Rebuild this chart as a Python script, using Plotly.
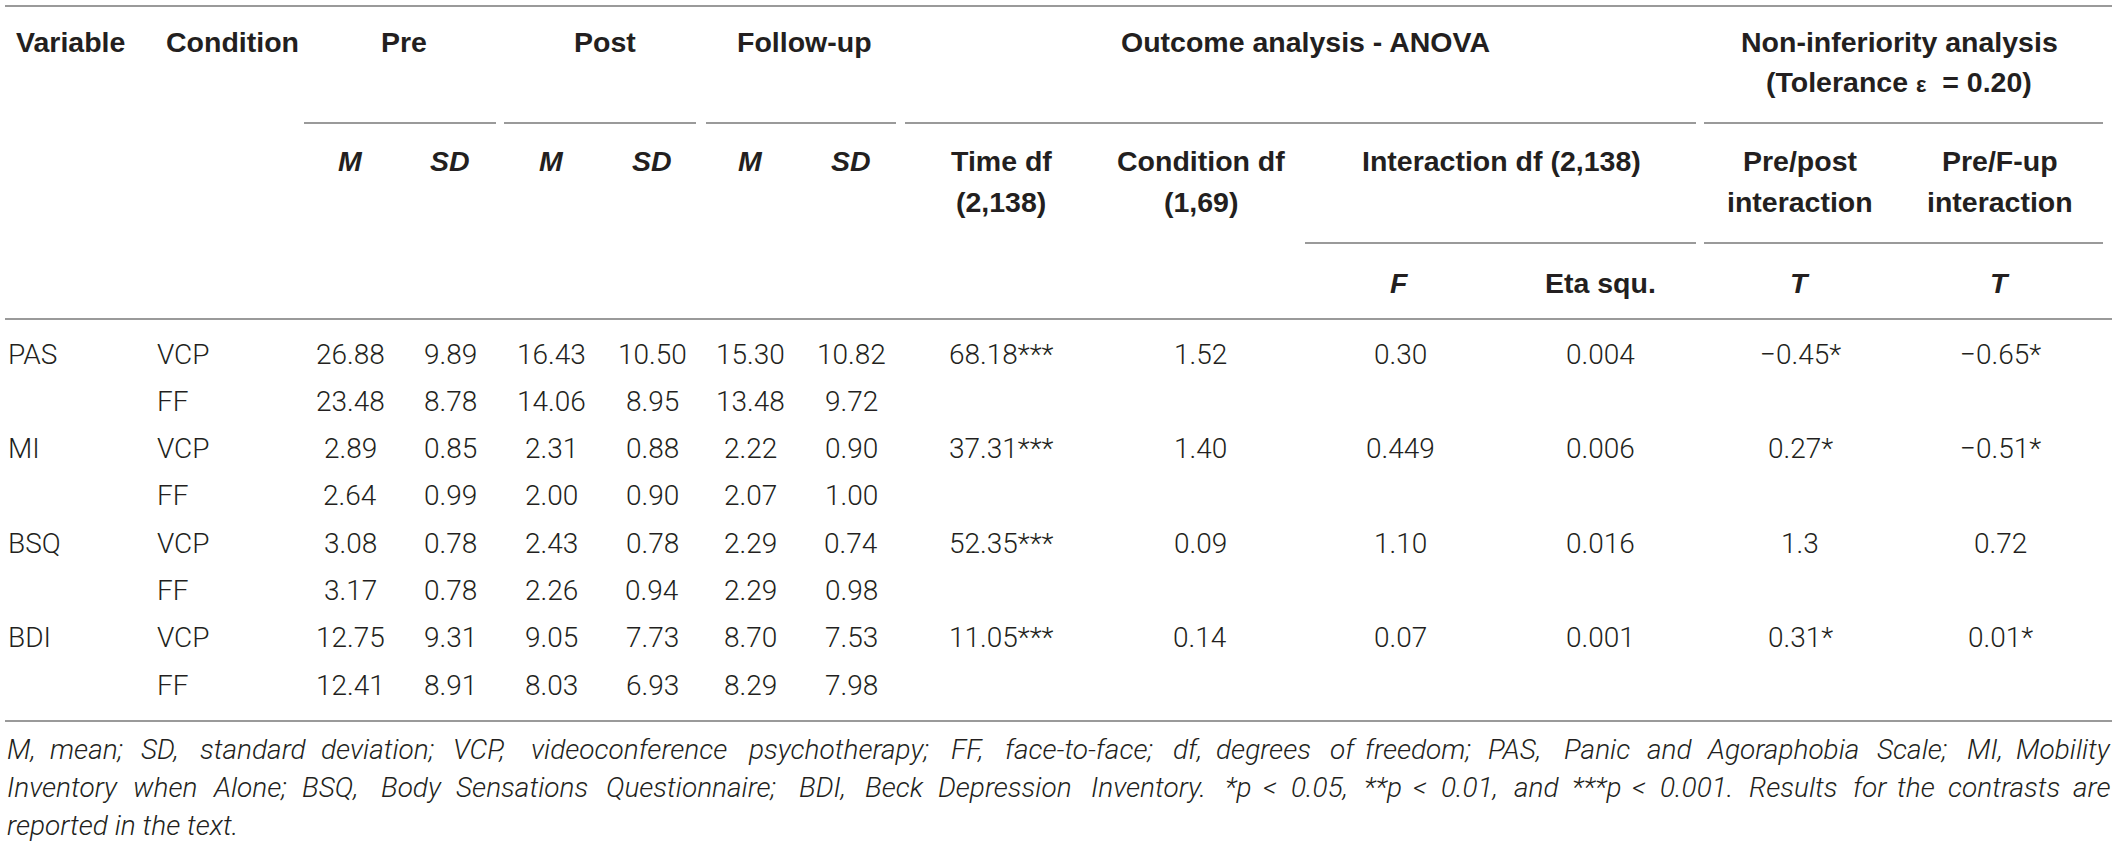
import plotly.graph_objects as go

# ------------------------------------------------------------------ data
variables = ["PAS", "MI", "BSQ", "BDI"]
conditions = ["VCP", "FF"]

pre_m = [26.88, 23.48, 2.89, 2.64, 3.08, 3.17, 12.75, 12.41]
pre_sd = [9.89, 8.78, 0.85, 0.99, 0.78, 0.78, 9.31, 8.91]
post_m = [16.43, 14.06, 2.31, 2.00, 2.43, 2.26, 9.05, 8.03]
post_sd = [10.50, 8.95, 0.88, 0.90, 0.78, 0.94, 7.73, 6.93]
fu_m = [15.30, 13.48, 2.22, 2.07, 2.29, 2.29, 8.70, 8.29]
fu_sd = [10.82, 9.72, 0.90, 1.00, 0.74, 0.98, 7.53, 7.98]

time_df = ["68.18***", "37.31***", "52.35***", "11.05***"]
condition_df = ["1.52", "1.40", "0.09", "0.14"]
interaction_f = ["0.30", "0.449", "1.10", "0.07"]
eta_squ = ["0.004", "0.006", "0.016", "0.001"]
t_pre_post = ["\u22120.45*", "0.27*", "1.3", "0.31*"]
t_pre_fup = ["\u22120.65*", "\u22120.51*", "0.72", "0.01*"]

footnote_lines = [
    "M, mean; SD, standard deviation; VCP, videoconference psychotherapy; FF, face-to-face; "
    "df, degrees of freedom; PAS, Panic and Agoraphobia Scale; MI, Mobility",
    "Inventory when Alone; BSQ, Body Sensations Questionnaire; BDI, Beck Depression Inventory. "
    "*p < 0.05, **p < 0.01, and ***p < 0.001. Results for the contrasts are",
    "reported in the text.",
]

# ------------------------------------------------------------------ layout constants
W, H = 2119, 844
XL, XR = 5, 2112
INK = "#231f20"
RULE = "#9a9a9a"

HEAD = dict(family="Liberation Sans, Arial, Helvetica, sans-serif", size=28.5, color=INK, weight=700)
DATA = dict(family="Roboto, Liberation Sans, Arial, sans-serif", size=28, color=INK, weight=300)
NOTE = dict(family="Roboto, Liberation Sans, Arial, sans-serif", size=28, color=INK, weight=300, style="italic")

col_var_x, col_cond_x = 7, 156
num_cols_x = [350, 450, 551, 652, 750, 851]
stat_cols_x = [1001, 1200, 1400, 1600, 1800, 2000]

y_row1, y_row1b = 42, 82
y_row2, y_row2b = 161, 202
y_row3 = 283
y_data0, row_step = 354, 47.3
y_note = [749, 787, 825]

annotations = []
shapes = []


def text(x, y, s, font, xanchor="center"):
    annotations.append(dict(x=x, y=y, xref="x", yref="y", text=s, showarrow=False,
                            xanchor=xanchor, yanchor="middle", font=font, borderpad=0))


def rule(x0, x1, y):
    shapes.append(dict(type="line", xref="x", yref="y", x0=x0, x1=x1, y0=y, y1=y,
                       line=dict(color=RULE, width=2)))


# rules
rule(XL, XR, 6)
for a, b in [(304, 496), (504, 696), (706, 896), (905, 1696), (1704, 2103)]:
    rule(a, b, 123)
for a, b in [(1305, 1696), (1704, 2103)]:
    rule(a, b, 243)
rule(XL, XR, 319)
rule(XL, XR, 721)

# header row 1
text(15, y_row1, "Variable", HEAD, "left")
text(165, y_row1, "Condition", HEAD, "left")
text(404, y_row1, "Pre", HEAD)
text(605, y_row1, "Post", HEAD)
text(804, y_row1, "Follow-up", HEAD)
text(1305, y_row1, "Outcome analysis - ANOVA", HEAD)
text(1899, y_row1, "Non-inferiority analysis", HEAD)
text(1899, y_row1b, "(Tolerance <span style='font-size:22px'>\u03b5</span>\u00a0 = 0.20)", HEAD)

# header row 2
for i, x in enumerate(num_cols_x):
    text(x, y_row2, "<i>M</i>" if i % 2 == 0 else "<i>SD</i>", HEAD)
text(1001, y_row2, "Time df", HEAD)
text(1001, y_row2b, "(2,138)", HEAD)
text(1201, y_row2, "Condition df", HEAD)
text(1201, y_row2b, "(1,69)", HEAD)
text(1501, y_row2, "Interaction df (2,138)", HEAD)
text(1800, y_row2, "Pre/post", HEAD)
text(1800, y_row2b, "interaction", HEAD)
text(2000, y_row2, "Pre/F-up", HEAD)
text(2000, y_row2b, "interaction", HEAD)

# header row 3
text(1399, y_row3, "<i>F</i>", HEAD)
text(1600, y_row3, "Eta squ.", HEAD)
text(1800, y_row3, "<i>T</i>", HEAD)
text(2000, y_row3, "<i>T</i>", HEAD)

# body
desc_cols = [pre_m, pre_sd, post_m, post_sd, fu_m, fu_sd]
stat_cols = [time_df, condition_df, interaction_f, eta_squ, t_pre_post, t_pre_fup]
for r in range(len(pre_m)):
    y = y_data0 + r * row_step
    v = r // len(conditions)
    if r % len(conditions) == 0:
        text(col_var_x, y, variables[v], DATA, "left")
    text(col_cond_x, y, conditions[r % len(conditions)], DATA, "left")
    for x, col in zip(num_cols_x, desc_cols):
        text(x, y, f"{col[r]:.2f}", DATA)
    if r % len(conditions) == 0:
        for x, col in zip(stat_cols_x, stat_cols):
            text(x, y, col[v], DATA)

# footnote (justified lines, word by word using Helvetica/Arial advance widths)
AW = {' ': 278, '!': 278, '(': 333, ')': 333, '*': 389, ',': 278, '-': 333, '.': 278,
      ':': 278, ';': 278, '<': 584, '=': 584, '>': 584,
      'A': 667, 'B': 667, 'C': 722, 'D': 722, 'E': 667, 'F': 611, 'G': 778, 'H': 722,
      'I': 278, 'J': 500, 'K': 667, 'L': 556, 'M': 833, 'N': 722, 'O': 778, 'P': 667,
      'Q': 778, 'R': 722, 'S': 667, 'T': 611, 'U': 722, 'V': 667, 'W': 944, 'X': 667,
      'Y': 667, 'Z': 611, 'a': 556, 'b': 556, 'c': 500, 'd': 556, 'e': 556, 'f': 278,
      'g': 556, 'h': 556, 'i': 222, 'j': 222, 'k': 500, 'l': 222, 'm': 833, 'n': 556,
      'o': 556, 'p': 556, 'q': 556, 'r': 333, 's': 500, 't': 278, 'u': 556, 'v': 500,
      'w': 722, 'x': 500, 'y': 500, 'z': 500}


def tw(s, fs):
    return sum(AW.get(c, 556) for c in s) * fs / 1000.0


def esc(s):
    return s.replace("&", "&amp;").replace("<", "&lt;").replace(">", "&gt;")


x_left, x_right = 6, XR
for li, line in enumerate(footnote_lines):
    y = y_note[li]
    if li < len(footnote_lines) - 1:
        words = line.split(" ")
        widths = [tw(w, NOTE["size"]) for w in words]
        gap = (x_right - x_left - sum(widths)) / (len(words) - 1)
        x = x_left
        for k, (w, wd) in enumerate(zip(words, widths)):
            if k == len(words) - 1:
                text(x_right, y, esc(w), NOTE, "right")
            else:
                text(x, y, esc(w), NOTE, "left")
            x += wd + gap
    else:
        text(x_left, y, esc(line), NOTE, "left")

fig = go.Figure()
fig.update_layout(
    width=W, height=H,
    margin=dict(l=0, r=0, t=0, b=0, pad=0),
    paper_bgcolor="white", plot_bgcolor="white",
    xaxis=dict(range=[0, W], visible=False, fixedrange=True),
    yaxis=dict(range=[H, 0], visible=False, fixedrange=True),
    showlegend=False,
    annotations=annotations,
    shapes=shapes,
)

fig.write_html("out.html",
               config={"displayModeBar": False, "staticPlot": True},
               post_script="document.body.style.margin='0';document.body.style.overflow='hidden';")
